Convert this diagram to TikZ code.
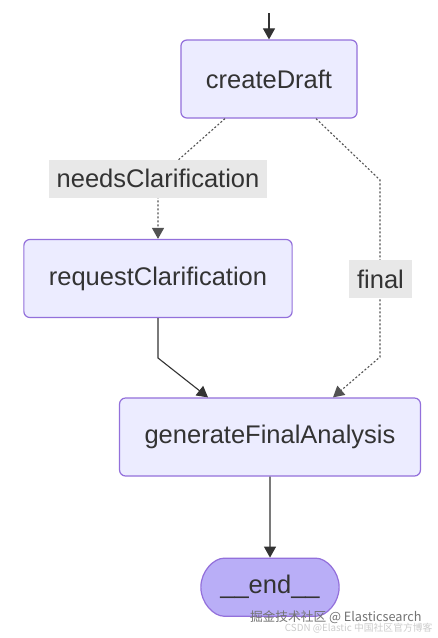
\documentclass[tikz,border=0pt]{standalone}
\usepackage{fontspec}
\setmainfont{Liberation Sans}
\newfontfamily\cjkfont{Noto Sans CJK SC}
\usetikzlibrary{arrows.meta,positioning,shapes.misc}
\definecolor{nodeFill}{HTML}{ECECFF}
\definecolor{nodeLine}{HTML}{9370DB}
\definecolor{endFill}{HTML}{B9AEF7}
\definecolor{edgeGray}{HTML}{333333}
\definecolor{tagGray}{HTML}{E8E8E8}
\tikzset{
  stateBox/.style={rectangle,rounded corners=6pt,draw=nodeLine,line width=1.2pt,fill=nodeFill,
                   minimum height=78pt,inner xsep=25pt,text=edgeGray,
                   font=\fontsize{25.5}{30}\selectfont},
  edgeTag/.style={rectangle,fill=tagGray,text=edgeGray,inner xsep=8pt,
                  minimum height=38pt,font=\fontsize{25.5}{30}\selectfont},
  flowArrow/.style={-{Triangle[length=11pt,width=12pt]},line width=1.1pt,draw=edgeGray},
  condArrow/.style={flowArrow,draw=edgeGray!85,dash pattern=on 2pt off 2pt},
}
\begin{document}
\begin{tikzpicture}[x=1pt,y=-1pt]
  \useasboundingbox[fill=white] (0,0) rectangle (438,638);
  % states
  \node[stateBox](cd) at (269,79){createDraft};
  \node[stateBox](rc) at (158,278.5){requestClarification};
  \node[stateBox](gfa) at (270,437){generateFinalAnalysis};
  \node[stateBox,rounded rectangle,fill=endFill,minimum height=58pt,inner xsep=17pt,
        below=81pt of gfa](fin){\_\_end\_\_};
  % bends
  \coordinate (top) at (269,13);
  \coordinate (l1) at (158,358);
  \coordinate (r1) at (380,180);
  \coordinate (r2) at (380,357);
  % edges
  \draw[flowArrow](top)--(cd);
  \draw[condArrow]([xshift=-44pt]cd.south)--(158,178)--(rc);
  \draw[condArrow]([xshift=47pt]cd.south)--(r1)--(r2)--([xshift=63pt]gfa.north);
  \draw[flowArrow](rc)--(l1)--([xshift=-62pt]gfa.north);
  \draw[flowArrow](gfa)--(fin);
  % edge labels
  \node[edgeTag](nc) at (158,178.5){needsClarification};
  \node[edgeTag](fn) at (380.5,279){final};
  % watermark
  \node[text=black!55,font=\cjkfont\fontsize{12.7}{15}\selectfont,anchor=east](wm1) at (425,617)
    {掘金技术社区 @ Elasticsearch};
  \node[text=gray!40,font=\cjkfont\fontsize{9.8}{12}\selectfont,anchor=east](wm2) at (436,628)
    {CSDN @Elastic 中国社区官方博客};
\end{tikzpicture}
\end{document}
